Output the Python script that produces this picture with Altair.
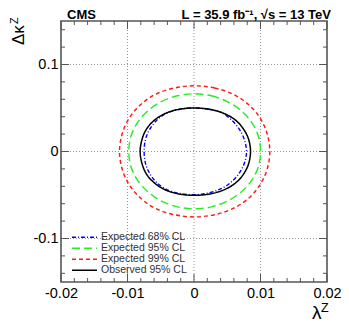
import altair as alt
import pandas as pd

# ---------------- data ----------------
series_names = ["Expected 68% CL", "Expected 95% CL", "Expected 99% CL", "Observed 95% CL"]
series_colors = ["#0000ff", "#22ee22", "#ff1a1a", "#000000"]
series_dash = [[4, 2, 1, 2], [8, 4], [4, 3], [1, 0]]
series_width = [1.4, 1.5, 1.5, 1.8]

exp68_x = [0.0, 0.0022, 0.0042, 0.0058, 0.0069, 0.0076, 0.0079, 0.0076, 0.0068, 0.0056, 0.0040, 0.0020,
           0.0, -0.0022, -0.0041, -0.0056, -0.0067, -0.0073, -0.0075, -0.0073, -0.0067, -0.0056, -0.0041, -0.0022]
exp68_y = [0.0500, 0.0485, 0.0445, 0.0350, 0.0245, 0.0130, 0.0, -0.0129, -0.0249, -0.0351, -0.0430, -0.0480,
           -0.0497, -0.0482, -0.0437, -0.0358, -0.0248, -0.0134, 0.0, 0.0135, 0.0250, 0.0360, 0.0440, 0.0485]

exp95_x = [0.0, 0.0026, 0.0050, 0.0071, 0.0087, 0.0097, 0.0100, 0.0097, 0.0087, 0.0071, 0.0050, 0.0026,
           0.0, -0.0025, -0.0049, -0.0069, -0.0085, -0.0095, -0.0098, -0.0095, -0.0085, -0.0069, -0.0049, -0.0025]
exp95_y = [0.0663, 0.0640, 0.0574, 0.0469, 0.0332, 0.0172, 0.0, -0.0170, -0.0329, -0.0465, -0.0570, -0.0636,
           -0.0658, -0.0636, -0.0570, -0.0465, -0.0329, -0.0170, 0.0, 0.0172, 0.0332, 0.0469, 0.0574, 0.0640]

exp99_x = [0.0, 0.0031, 0.0059, 0.0082, 0.0099, 0.0110, 0.0114, 0.0110, 0.0099, 0.0082, 0.0059, 0.0031,
           0.0, -0.0030, -0.0058, -0.0080, -0.0097, -0.0108, -0.0112, -0.0108, -0.0097, -0.0080, -0.0058, -0.0030]
exp99_y = [0.0755, 0.0729, 0.0657, 0.0540, 0.0389, 0.0204, 0.0, -0.0203, -0.0387, -0.0538, -0.0654, -0.0726,
           -0.0752, -0.0726, -0.0654, -0.0538, -0.0387, -0.0203, 0.0, 0.0204, 0.0389, 0.0540, 0.0657, 0.0729]

obs95_x = [0.0, 0.0024, 0.0045, 0.0062, 0.0074, 0.0082, 0.0085, 0.0082, 0.0074, 0.0062, 0.0045, 0.0024,
           0.0, -0.0023, -0.0043, -0.0059, -0.0071, -0.0078, -0.0081, -0.0078, -0.0071, -0.0059, -0.0043, -0.0023]
obs95_y = [0.0500, 0.0484, 0.0438, 0.0363, 0.0263, 0.0143, 0.0, -0.0144, -0.0265, -0.0365, -0.0441, -0.0488,
           -0.0504, -0.0488, -0.0441, -0.0365, -0.0265, -0.0144, 0.0, 0.0143, 0.0263, 0.0363, 0.0438, 0.0484]

x_tick_values = [-0.02, -0.01, 0.0, 0.01, 0.02]
x_tick_labels = ["-0.02", "-0.01", "0", "0.01", "0.02"]
y_tick_values = [-0.1, 0.0, 0.1]
y_tick_labels = ["-0.1", "0", "0.1"]
x_grid = [-0.01, 0.0, 0.01]
y_grid = [-0.1, 0.0, 0.1]
x_minor = [round(-0.02 + 0.002 * i, 4) for i in range(21)]
x_minor = [v for v in x_minor if all(abs(v - m) > 1e-9 for m in x_tick_values)]
y_major_ticks = [-0.1, 0.0, 0.1]
y_minor = [round(-0.14 + 0.02 * i, 4) for i in range(15)]
y_minor = [v for v in y_minor if all(abs(v - m) > 1e-9 for m in y_major_ticks)]

# ---------------- tables ----------------
rows = []
for name, xs, ys in zip(series_names,
                        [exp68_x, exp95_x, exp99_x, obs95_x],
                        [exp68_y, exp95_y, exp99_y, obs95_y]):
    for i, (xv, yv) in enumerate(zip(xs, ys)):
        rows.append({"series": name, "idx": i, "x": xv, "y": yv})
df = pd.DataFrame(rows)
legend_df = pd.DataFrame({"series": series_names, "row": list(range(len(series_names)))})

W, H = 266, 261
FONT = "Liberation Sans"
XD = [-0.02, 0.02]
YD = [-0.15, 0.15]

def label_expr(values, labels):
    expr = "''"
    for v, l in reversed(list(zip(values, labels))):
        expr = f"abs(datum.value - ({v})) < 1e-9 ? '{l}' : {expr}"
    return expr

color_scale = alt.Scale(domain=series_names, range=series_colors)
dash_scale = alt.Scale(domain=series_names, range=series_dash)
width_scale = alt.Scale(domain=series_names, range=series_width)

xscale = alt.Scale(domain=XD, nice=False, zero=False)
yscale = alt.Scale(domain=YD, nice=False, zero=False)

XAXIS = alt.Axis(
    values=x_tick_values, labelExpr=label_expr(x_tick_values, x_tick_labels),
    ticks=False, tickSize=0, domain=False, grid=False, title=None,
    labelFontSize=14.5, labelFont=FONT, labelColor="#000", labelPadding=4,
    labelFlush=False, labelOverlap=False, labelBound=False)
YAXIS = alt.Axis(
    values=y_tick_values, labelExpr=label_expr(y_tick_values, y_tick_labels),
    ticks=False, tickSize=0, domain=False, grid=False, title=None,
    labelFontSize=14.5, labelFont=FONT, labelColor="#000", labelPadding=3,
    labelFlush=False, labelOverlap=False, labelBound=False)

def X(field):
    return alt.X(field, scale=xscale, axis=XAXIS)

def contour(name, with_axes=False):
    yenc = alt.Y("y:Q", scale=yscale, axis=YAXIS if with_axes else None)
    return alt.Chart(df).transform_filter(alt.datum.series == name).mark_line(
        interpolate="cardinal-closed").encode(
        x=X("x:Q"), y=yenc, order="idx:Q",
        color=alt.Color("series:N", scale=color_scale, legend=None),
        strokeDash=alt.StrokeDash("series:N", scale=dash_scale, legend=None),
        strokeWidth=alt.StrokeWidth("series:N", scale=width_scale, legend=None),
    )

GRID = dict(color="#888888", strokeDash=[1, 2], strokeWidth=0.9)
gx = alt.Chart(pd.DataFrame({"v": x_grid})).mark_rule(**GRID).encode(
    x=X("v:Q"), y=alt.value(0), y2=alt.value(H))
gy = alt.Chart(pd.DataFrame({"v": y_grid})).mark_rule(**GRID).encode(
    y=alt.Y("v:Q", scale=yscale, axis=None), x=alt.value(0), x2=alt.value(W))

TICK = dict(color="#555555", strokeWidth=1)
def xticks(vals, length):
    d = pd.DataFrame({"v": vals})
    bot = alt.Chart(d).mark_rule(**TICK).encode(
        x=X("v:Q"), y=alt.value(H), y2=alt.value(H - length))
    top = alt.Chart(d).mark_rule(**TICK).encode(
        x=X("v:Q"), y=alt.value(0), y2=alt.value(length))
    return [bot, top]

def yticks(vals, length):
    d = pd.DataFrame({"v": vals})
    left = alt.Chart(d).mark_rule(**TICK).encode(
        y=alt.Y("v:Q", scale=yscale, axis=None), x=alt.value(0), x2=alt.value(length))
    right = alt.Chart(d).mark_rule(**TICK).encode(
        y=alt.Y("v:Q", scale=yscale, axis=None), x=alt.value(W), x2=alt.value(W - length))
    return [left, right]

# legend drawn inside the frame (bottom-left)
leg_y = alt.Y("row:Q", scale=alt.Scale(domain=[0, 3], range=[216.3, 249.3], nice=False, zero=False), axis=None)
leg_lines = alt.Chart(legend_df).mark_rule().encode(
    y=leg_y, x=alt.value(11), x2=alt.value(36),
    color=alt.Color("series:N", scale=color_scale, legend=None),
    strokeDash=alt.StrokeDash("series:N", scale=dash_scale, legend=None),
    strokeWidth=alt.StrokeWidth("series:N", scale=width_scale, legend=None),
)
leg_text = alt.Chart(legend_df).mark_text(
    align="left", baseline="middle", font=FONT, fontSize=10.5, color="#333333").encode(
    y=leg_y, x=alt.value(40), text="series:N")

def label(txt, x, y, **kw):
    return alt.Chart(pd.DataFrame({"t": [txt]})).mark_text(font=FONT, **kw).encode(
        text="t:N", x=alt.value(x), y=alt.value(y))

cms = label("CMS", 6, -2, align="left", baseline="alphabetic", fontSize=13, fontWeight="bold", color="#000")
lumi = label("L = 35.9 fb\u207b\u00b9, \u221as = 13 TeV", 270, -2, align="right",
             baseline="alphabetic", fontSize=13, fontWeight="bold", color="#000")
xt1 = label("\u03bb", 260.5, 298, align="right", baseline="alphabetic", fontSize=19, color="#000")
xt2 = label("Z", 260, 291, align="left", baseline="alphabetic", fontSize=12.5, color="#000")
yt1 = label("\u0394\u03ba", -37.5, 24, align="left", baseline="alphabetic", fontSize=17, angle=270, color="#000")
yt2 = label("Z", -43, 3, align="left", baseline="alphabetic", fontSize=11, angle=270, color="#000")

layers = [gx, gy] + xticks(x_minor, 4) + xticks(x_tick_values, 8) + yticks(y_minor, 4) + yticks(y_major_ticks, 8)
layers += [contour(series_names[2], True), contour(series_names[1]), contour(series_names[0]), contour(series_names[3])]
layers += [leg_lines, leg_text, cms, lumi, xt1, xt2, yt1, yt2]

chart = alt.layer(*layers).resolve_scale(y="independent").properties(
    width=W, height=H,
    autosize=alt.AutoSizeParams(type="none"),
    padding={"left": 53, "top": 13, "right": 14, "bottom": 43},
).configure_view(stroke="#555555", strokeWidth=1.6)

chart.save("out.html", embed_options={"renderer": "svg", "actions": False})
